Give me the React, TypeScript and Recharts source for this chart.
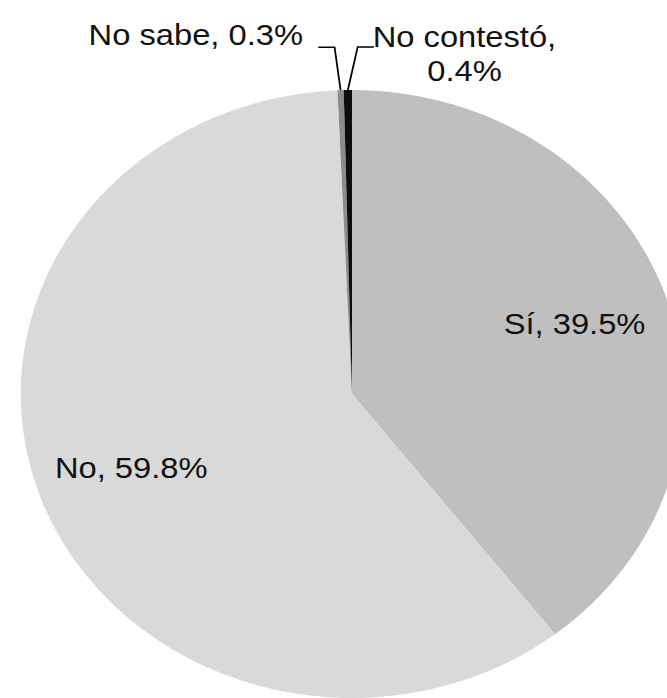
import { Cell, Pie, PieChart } from "recharts";

const CATEGORIES = ["Sí", "No", "No sabe", "No contestó"];
const SHARES = [39.5, 59.8, 0.3, 0.4];
const COLORS = ["#bfbfbf", "#d9d9d9", "#8c8c8c", "#0d0d0d"];

const FONT = "'Liberation Sans', Arial, sans-serif";
const FONT_SIZE = 30;
const TEXT_COLOR = "#111";
// the reference image is stretched horizontally, so draw it at 612px wide and scale up
const STRETCH = 667 / 612;

const data = CATEGORIES.map((name, i) => ({ name, value: SHARES[i] }));

const RAD = Math.PI / 180;

function renderLabel(props: any) {
  const { cx, cy, midAngle, outerRadius, index, name, value } = props;
  const text = `${name}, ${Number(value).toFixed(1)}%`;

  if (index < 2) {
    // big slices: label inside
    const r = outerRadius * 0.71;
    const x = cx + r * Math.cos(-midAngle * RAD);
    const y = cy + r * Math.sin(-midAngle * RAD);
    return (
      <text x={x} y={y} textAnchor="middle" dominantBaseline="central" fontFamily={FONT} fontSize={FONT_SIZE} fill={TEXT_COLOR}>
        {text}
      </text>
    );
  }

  // tiny slices: leader line going up, then sideways
  const sx = cx + outerRadius * Math.cos(-midAngle * RAD);
  const sy = cy + outerRadius * Math.sin(-midAngle * RAD);
  const side = index === 2 ? -1 : 1;
  const ex = sx + side * (index === 2 ? 5.5 : 9);
  const ey = sy - 43;
  const hx = ex + side * 15;

  return (
    <g>
      <path d={`M${sx},${sy} L${ex},${ey} L${hx},${ey}`} stroke="#000" strokeWidth={1.6} fill="none" />
      {side < 0 ? (
        <text x={hx - 14} y={ey - 2} textAnchor="end" fontFamily={FONT} fontSize={FONT_SIZE} fill={TEXT_COLOR}>
          {text}
        </text>
      ) : (
        <text textAnchor="middle" fontFamily={FONT} fontSize={FONT_SIZE} fill={TEXT_COLOR}>
          <tspan x={hx + 83} y={ey}>{`${name},`}</tspan>
          <tspan x={hx + 83} y={ey + 34}>{`${Number(value).toFixed(1)}%`}</tspan>
        </text>
      )}
    </g>
  );
}

export default function App() {
  return (
    <div style={{ position: "absolute", left: 0, top: 0, width: 667, height: 698, overflow: "hidden", background: "#fff" }}>
      <div style={{ width: 612, height: 698, transform: `scaleX(${STRETCH})`, transformOrigin: "0 0" }}>
        <PieChart width={612} height={698}>
          <Pie
            data={data}
            dataKey="value"
            nameKey="name"
            cx={318}
            cy={389}
            outerRadius={304}
            startAngle={90}
            endAngle={-270}
            stroke="none"
            label={renderLabel}
            labelLine={false}
            isAnimationActive={false}
          >
            {data.map((entry, i) => (
              <Cell key={entry.name} fill={COLORS[i]} />
            ))}
          </Pie>
        </PieChart>
      </div>
    </div>
  );
}
